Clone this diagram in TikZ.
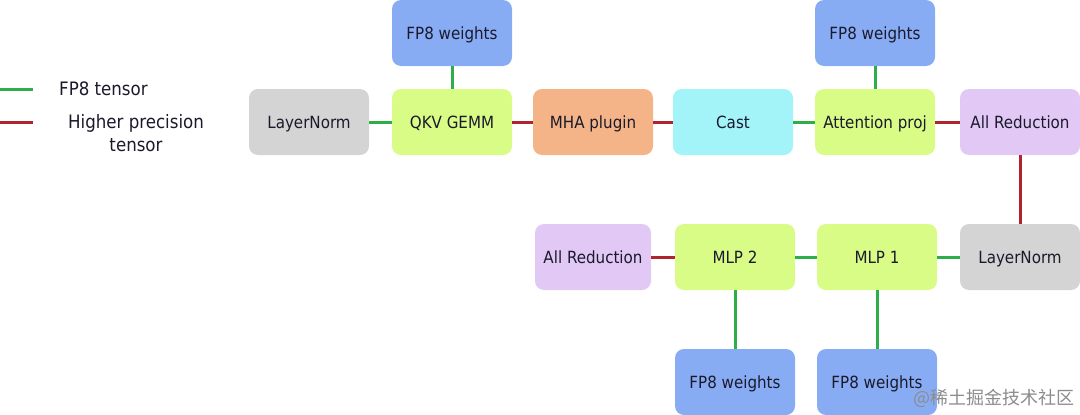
\documentclass[tikz,border=0pt]{standalone}
\usepackage{fontspec}
\setmainfont{DejaVu Sans Condensed}
\newfontfamily\cjk{Noto Sans CJK SC}
\definecolor{cgray}{HTML}{D4D4D4}
\definecolor{clime}{HTML}{D9FC86}
\definecolor{corange}{HTML}{F4B487}
\definecolor{ccyan}{HTML}{A2F4F8}
\definecolor{cpurple}{HTML}{E2C8F4}
\definecolor{cblue}{HTML}{88ACF4}
\definecolor{lgreen}{HTML}{2EAE48}
\definecolor{lred}{HTML}{B02430}
\definecolor{ctext}{HTML}{1A1A2C}
\tikzset{
  blk/.style={rounded corners=9pt, minimum width=120pt, minimum height=66pt, inner sep=0pt, text=ctext, font=\fontsize{16.8}{19}\selectfont, text height=13.5pt, text depth=1.5pt},
  fp8/.style={draw=lgreen, line width=3pt},
  hp/.style={draw=lred, line width=3pt},
}
\begin{document}
\begin{tikzpicture}[x=1pt,y=-1pt]
\useasboundingbox (0,0) rectangle (1080,415);
% legend
\coordinate (g1) at (0,89); \coordinate (g2) at (33,89);
\coordinate (r1) at (0,122); \coordinate (r2) at (33,122);
\draw[fp8] (g1) -- (g2);
\draw[hp] (r1) -- (r2);
\node[text=ctext, font=\fontsize{18.5}{22}\selectfont, anchor=west, inner sep=0pt] (lfp8) at (59,89) {FP8 tensor};
\node[text=ctext, font=\fontsize{18.5}{23}\selectfont, align=center, inner sep=0pt] (lhp) at (136,133) {Higher precision\\tensor};
% top row
\node[blk, fill=cgray] (ln1) at (309,122) {LayerNorm};
\node[blk, fill=clime] (qkv) at (452,122) {QKV GEMM};
\node[blk, fill=corange] (mha) at (593,122) {MHA plugin};
\node[blk, fill=ccyan] (cast) at (733,122) {Cast};
\node[blk, fill=clime] (attn) at (875,122) {Attention proj};
\node[blk, fill=cpurple] (ar1) at (1020,122) {All Reduction};
\node[blk, fill=cblue] (w1) at (452,33) {FP8 weights};
\node[blk, fill=cblue] (w2) at (875,33) {FP8 weights};
% bottom row
\node[blk, fill=cpurple, minimum width=116pt] (ar2) at (593,257) {All Reduction};
\node[blk, fill=clime] (mlp2) at (735,257) {MLP 2};
\node[blk, fill=clime] (mlp1) at (877,257) {MLP 1};
\node[blk, fill=cgray] (ln2) at (1020,257) {LayerNorm};
\node[blk, fill=cblue] (w3) at (735,382) {FP8 weights};
\node[blk, fill=cblue] (w4) at (877,382) {FP8 weights};
% connectors
\draw[fp8] (ln1) -- (qkv);
\draw[hp] (qkv) -- (mha);
\draw[hp] (mha) -- (cast);
\draw[fp8] (cast) -- (attn);
\draw[hp] (attn) -- (ar1);
\draw[fp8] (w1) -- (qkv);
\draw[fp8] (w2) -- (attn);
\draw[hp] (ar1) -- (ln2);
\draw[fp8] (ln2) -- (mlp1);
\draw[fp8] (mlp1) -- (mlp2);
\draw[hp] (mlp2) -- (ar2);
\draw[fp8] (mlp2) -- (w3);
\draw[fp8] (mlp1) -- (w4);
% watermark
\node[text=black!45, font=\cjk\fontsize{18}{20}\selectfont, anchor=east, inner sep=0pt] (wm) at (1075,398) {@稀土掘金技术社区};
\end{tikzpicture}
\end{document}
